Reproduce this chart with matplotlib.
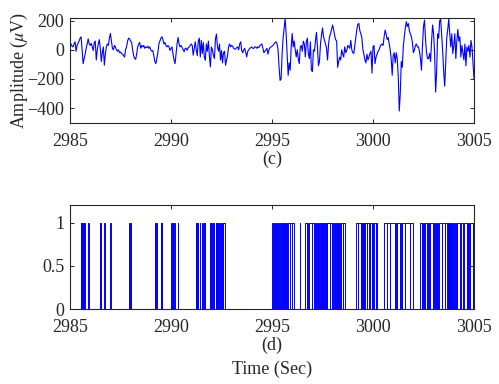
import numpy as np
import matplotlib
matplotlib.use("Agg")
import matplotlib.pyplot as plt

plt.rcParams['font.family'] = ['Liberation Serif', 'DejaVu Serif']
plt.rcParams['mathtext.fontset'] = 'stix'

# ---------------- data ----------------
t_start, t_end = 2985.0, 3005.0  # samples at 20 samples/s

amp_2985 = [48, 40, 25, 20, 40, 55, -10, 30, 45, 60, 80, 89, 0, -95, -60, -30, 10, 40, 75, 40]
amp_2986 = [30, 45, 20, -5, 50, 60, -70, 0, 40, 70, 10, -80, -20, 20, -106, -30, 20, 40, 30, 80]
amp_2987 = [112, 60, 10, 0, 30, 20, 0, -10, 0, -20, -15, -25, -30, -40, -50, 0, 20, 60, 80, 75]
amp_2988 = [60, 50, 0, -40, -60, -65, -30, 20, 40, 50, 10, 30, 20, 30, 10, 20, 15, 25, 10, 20]
amp_2989 = [0, -10, -5, -40, -80, -95, -60, -20, 40, 60, 80, 90, 70, 40, 50, 30, 20, 30, 20, -5]
amp_2990 = [10, 20, -30, -70, -95, -25, 40, 85, 40, 20, 30, 15, 0, -14, 10, 10, -3, 15, 20, 30]
amp_2991 = [40, 30, -37, 10, 55, 0, -40, 60, 80, -49, 65, -25, 50, -50, -72, 40, -10, 60, -40, -117]
amp_2992 = [20, 0, -40, -60, 75, 108, 20, -10, 40, -70, -5, -90, -20, -10, -106, -70, -40, 20, 40, 20]
amp_2993 = [30, 25, 10, 5, 5, 15, 20, 0, 40, 55, -5, -20, 0, 10, -20, -49, -10, 0, 10, 15]
amp_2994 = [20, 10, 10, 20, 20, 10, 20, 15, 30, 35, 40, 10, -20, -10, 0, 10, -30, 0, 15, 20]
amp_2995 = [25, 30, 40, 50, 55, 40, 0, -120, -210, -200, -30, 80, 150, 215, 110, -40, -175, -90, -140, 20]
amp_2996 = [112, 20, 60, 0, -49, 0, -60, -95, 20, 30, -10, 60, 40, -49, 55, 80, -30, -60, 55, -140]
amp_2997 = [-150, 0, -10, 60, 120, 20, -110, -80, 40, 100, 150, 90, 65, 40, 10, -70, 40, 90, 110, 140]
amp_2998 = [170, 140, 100, 70, 60, -120, -80, -50, -70, 0, -30, -50, 20, -20, -5, 30, 20, 10, 65, 0]
amp_2999 = [-20, -25, 30, 80, 140, 175, 181, 130, 110, 80, 0, -30, -70, -90, -30, -70, -50, -25, -10, -160]
amp_3000 = [20, 30, -95, -50, -30, -10, 0, 20, 35, 40, 30, 90, 135, 110, 70, 85, 40, 0, -60, -175]
amp_3001 = [-40, -20, -90, -20, -60, -180, -420, -300, -80, -120, 20, 90, 150, 193, 160, 180, 130, 110, 90, 50]
amp_3002 = [-20, 0, 30, 40, 20, 20, -10, -60, -140, 30, 160, 204, 70, -20, -60, -60, -25, -80, 60, 170]
amp_3003 = [110, -25, -290, -150, 110, 80, 200, 210, 100, -10, -150, -250, -90, 80, 140, 212, 110, 20, 110, -25]
amp_3004 = [30, 110, -60, 60, 140, 60, 90, -50, 30, -20, -70, 40, -110, 20, -10, 30, -50, 65, 20, -90]
amp_3005 = [-200]

amplitude = (amp_2985 + amp_2986 + amp_2987 + amp_2988 + amp_2989 + amp_2990 + amp_2991
             + amp_2992 + amp_2993 + amp_2994 + amp_2995 + amp_2996 + amp_2997 + amp_2998
             + amp_2999 + amp_3000 + amp_3001 + amp_3002 + amp_3003 + amp_3004 + amp_3005)
time = np.linspace(t_start, t_end, len(amplitude))

# binary detection signal: short isolated pulses (value 1)
pulse_start = [2985.52, 2985.58, 2985.64, 2985.70, 2985.91, 2986.46, 2986.52, 2986.69, 2986.99,
               2987.94, 2988.00, 2989.20, 2989.26, 2989.48, 2989.53, 2990.02, 2990.08, 2990.14,
               2990.35, 2991.22, 2991.29, 2991.34, 2991.43, 2991.51, 2991.59, 2991.66, 2991.92,
               2991.98, 2992.05, 2992.12, 2992.22, 2992.28, 2992.33, 2992.42, 2992.50, 2992.58,
               2996.37]
pulse_end = [2985.55, 2985.61, 2985.67, 2985.74, 2985.93, 2986.48, 2986.54, 2986.71, 2987.04,
             2987.97, 2988.04, 2989.22, 2989.29, 2989.50, 2989.56, 2990.04, 2990.10, 2990.18,
             2990.37, 2991.25, 2991.31, 2991.36, 2991.46, 2991.53, 2991.61, 2991.70, 2991.95,
             2992.00, 2992.07, 2992.14, 2992.24, 2992.30, 2992.36, 2992.47, 2992.55, 2992.66,
             2996.40]
# long blocks at 1, interrupted by brief drops to 0
block_start = [2995.01, 2996.62, 2999.15, 3000.54, 3002.33]
block_end = [2996.10, 2998.60, 3000.22, 3001.97, 3005.00]
dip_times = [2995.06, 2995.16, 2995.23, 2995.31, 2995.40, 2995.48, 2995.56, 2995.61, 2995.69,
             2995.76, 2995.89, 2995.97,
             2996.72, 2996.80, 2996.96, 2997.08, 2997.18, 2997.29, 2997.38, 2997.43, 2997.48,
             2997.54, 2997.60, 2997.66, 2997.71, 2997.87, 2997.95, 2998.03, 2998.12, 2998.20,
             2998.28, 2998.37, 2998.50,
             2999.25, 2999.39, 2999.44, 2999.49, 2999.54, 2999.59, 2999.69, 2999.82, 2999.94,
             3000.02, 3000.15,
             3000.68, 3000.84, 3001.09, 3001.17, 3001.34, 3001.42, 3001.58, 3001.83,
             3002.41, 3002.49, 3002.57, 3002.66, 3002.74, 3002.82, 3002.99, 3003.07, 3003.15,
             3003.23, 3003.40, 3003.56, 3003.68, 3003.73, 3003.78, 3003.81, 3003.86, 3003.89,
             3003.94, 3003.98, 3004.06, 3004.14, 3004.31, 3004.47, 3004.64, 3004.72, 3004.80,
             3004.93]
dip_width = 0.025

x_ticks = [2985, 2990, 2995, 3000, 3005]
y_ticks_top = [-400, -200, 0, 200]
y_ticks_bot = [0, 0.5, 1]
y_ticklabels_bot = ['0', '0.5', '1']

# ---------------- build binary trace ----------------
on_intervals = list(zip(pulse_start, pulse_end))
for bs, be in zip(block_start, block_end):
    ds = sorted(d for d in dip_times if bs < d < be)
    cur = bs
    for d in ds:
        on_intervals.append((cur, d))
        cur = d + dip_width
    on_intervals.append((cur, be))
on_intervals.sort()
bx, by = [t_start], [0]
for s, e in on_intervals:
    bx += [s, s, e, e]
    by += [0, 1, 1, 0]
bx.append(t_end)
by.append(0)

# ---------------- figure ----------------
fig = plt.figure(figsize=(4.99, 3.84), dpi=100)
ax1 = fig.add_axes([0.1403, 0.6805, 0.8096, 0.2714])
ax2 = fig.add_axes([0.1403, 0.1953, 0.8096, 0.2701])

frame_col = '#262626'
fsz = 13
for ax in (ax1, ax2):
    ax.set_xlim(t_start, t_end)
    ax.set_xticks(x_ticks)
    ax.set_xticklabels([str(v) for v in x_ticks])
    ax.tick_params(direction='in', length=3, width=0.7, top=True, right=True,
                   labelsize=fsz, colors=frame_col)
    ax.tick_params(axis='x', pad=7.5)
    ax.tick_params(axis='y', pad=4)
    for sp in ax.spines.values():
        sp.set_color(frame_col)
        sp.set_linewidth(0.8)

ax1.plot(time, amplitude, color='#0000ff', lw=0.8)
ax1.set_ylim(-500, 215)
ax1.set_yticks(y_ticks_top)
ax1.set_xlabel('(c)', fontsize=fsz, color=frame_col, labelpad=0.5)
ax1.set_ylabel(r'Amplitude ($\mu$V)', fontsize=fsz, color=frame_col, labelpad=-1.5)

ax2.plot(bx, by, color='#0000ff', lw=0.7)
ax2.set_ylim(0, 1.2)
ax2.set_yticks(y_ticks_bot)
ax2.set_yticklabels(y_ticklabels_bot)
ax2.set_xlabel('(d)\nTime (Sec)', fontsize=fsz, color=frame_col, labelpad=0.5, linespacing=1.5)

fig.savefig('out.png', dpi=100)
